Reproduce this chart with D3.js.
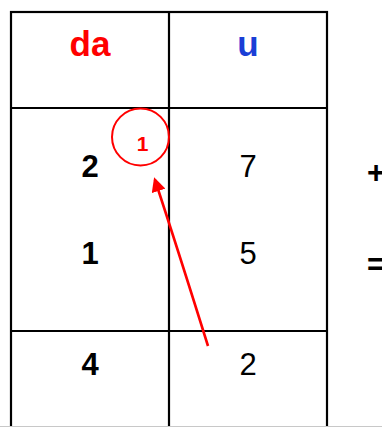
<!DOCTYPE html>
<html>
<head>
<meta charset="utf-8">
<script src="https://cdn.jsdelivr.net/npm/d3@7"></script>
<style>
  html, body { margin: 0; padding: 0; background: #fff; }
  svg { display: block; }
  text { font-family: "Liberation Sans", Arial, sans-serif; }
</style>
</head>
<body>
<svg id="chart" width="382" height="427"></svg>
<script>
// column headers: decine / unità
var columns = ["da", "u"];
var headerColors = ["#ff0000", "#1a3ed6"];
// addends and result, by row
var rowKeys = ["a", "b", "sum"];
var tens = [2, 1, 4];
var units = [7, 5, 2];
var operators = ["+", "="];
var carry = 1;

var svg = d3.select("#chart");

// table frame (names avoid window.top)
var tLeft = 11, tRight = 327, tTop = 12, headerBottom = 108, sumTop = 331, tBottom = 426;

var x = d3.scaleBand().domain(columns).range([tLeft, tRight]);
// baselines of the number rows
var y = d3.scaleOrdinal().domain(rowKeys).range([177, 264, 375]);
var yOp = d3.scaleOrdinal().domain(operators).range([172, 264]);

var grid = svg.append("g")
    .attr("stroke", "#000")
    .attr("stroke-width", 2.2)
    .attr("fill", "none");

grid.append("rect")
    .attr("x", tLeft).attr("y", tTop)
    .attr("width", tRight - tLeft).attr("height", tBottom + 10 - tTop);

grid.append("line")
    .attr("x1", x("u")).attr("x2", x("u"))
    .attr("y1", tTop).attr("y2", tBottom + 10);

[headerBottom, sumTop].forEach(function(yy) {
    grid.append("line")
        .attr("x1", tLeft).attr("x2", tRight)
        .attr("y1", yy).attr("y2", yy);
});

svg.append("line")
    .attr("x1", 0).attr("x2", 382)
    .attr("y1", tBottom + 0.5).attr("y2", tBottom + 0.5)
    .attr("stroke", "#c8c8c8").attr("stroke-width", 1);

// headers
svg.selectAll("text.head")
    .data(columns)
    .enter().append("text")
    .attr("class", "head")
    .attr("x", function(d) { return x(d) + x.bandwidth() / 2; })
    .attr("y", 56)
    .attr("text-anchor", "middle")
    .attr("font-size", 35)
    .attr("font-weight", "bold")
    .attr("fill", function(d, i) { return headerColors[i]; })
    .text(function(d) { return d; });

// tens column (bold)
svg.selectAll("text.tens")
    .data(tens)
    .enter().append("text")
    .attr("class", "tens")
    .attr("x", x("da") + x.bandwidth() / 2)
    .attr("y", function(d, i) { return y(rowKeys[i]); })
    .attr("text-anchor", "middle")
    .attr("font-size", 31)
    .attr("font-weight", "bold")
    .text(function(d) { return d; });

// units column
svg.selectAll("text.units")
    .data(units)
    .enter().append("text")
    .attr("class", "units")
    .attr("x", x("u") + x.bandwidth() / 2)
    .attr("y", function(d, i) { return y(rowKeys[i]); })
    .attr("text-anchor", "middle")
    .attr("font-size", 31)
    .text(function(d) { return d; });

// operators on the right, partly cut off as in the original
svg.selectAll("text.op")
    .data(operators)
    .enter().append("text")
    .attr("class", "op")
    .attr("x", 367)
    .attr("y", function(d) { return yOp(d) + 11; })
    .attr("font-size", 31)
    .attr("font-weight", "bold")
    .text(function(d) { return d; });

// carry circle
var cx = 140.5, cy = 137;
svg.append("circle")
    .attr("cx", cx).attr("cy", cy).attr("r", 28.5)
    .attr("fill", "none")
    .attr("stroke", "#ff0000")
    .attr("stroke-width", 2);

svg.append("text")
    .attr("x", cx + 2).attr("y", cy + 14)
    .attr("text-anchor", "middle")
    .attr("font-size", 21)
    .attr("font-weight", "bold")
    .attr("fill", "#ff0000")
    .text(carry);

// arrow from units result up to carry
svg.append("defs").append("marker")
    .attr("id", "head")
    .attr("viewBox", "0 0 10 10")
    .attr("refX", 8).attr("refY", 5)
    .attr("markerWidth", 5.5).attr("markerHeight", 5.5)
    .attr("markerUnits", "strokeWidth")
    .attr("orient", "auto")
    .append("path")
    .attr("d", "M0,0 L10,5 L0,10 Z")
    .attr("fill", "#ff0000");

var p = d3.path();
p.moveTo(208, 346);
p.quadraticCurveTo(178, 250, 155, 180);
svg.append("path")
    .attr("d", p.toString())
    .attr("fill", "none")
    .attr("stroke", "#ff0000")
    .attr("stroke-width", 2.6)
    .attr("marker-end", "url(#head)");
</script>
</body>
</html>
